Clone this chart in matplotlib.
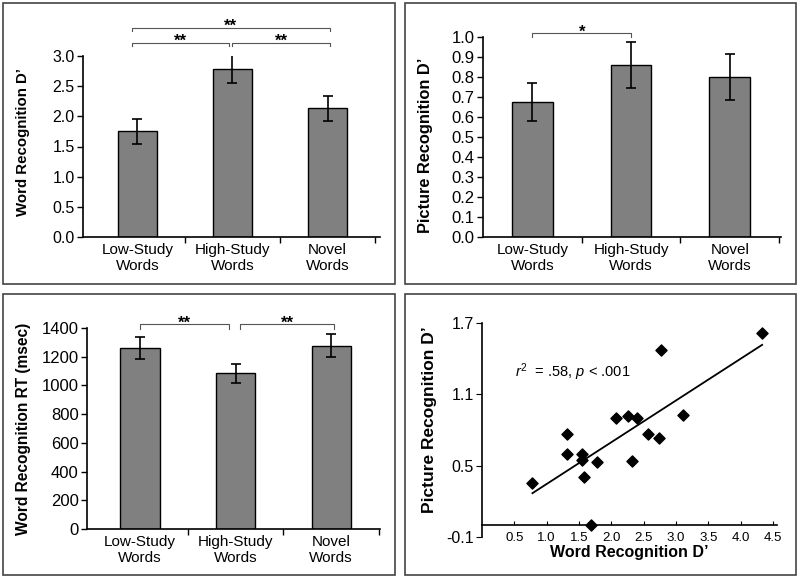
import numpy as np
import matplotlib
matplotlib.use('Agg')
import matplotlib.pyplot as plt
from matplotlib.patches import Rectangle

plt.rcParams['font.family'] = ['Liberation Sans', 'DejaVu Sans']
plt.rcParams['mathtext.fontset'] = 'custom'
plt.rcParams['mathtext.rm'] = 'Liberation Sans'
plt.rcParams['mathtext.it'] = 'Liberation Sans:italic'

# 数据
conds = ['Low-Study\nWords', 'High-Study\nWords', 'Novel\nWords']
word_d = [1.75, 2.78, 2.13]
word_d_err = [0.21, 0.23, 0.21]
pic_d = [0.675, 0.86, 0.80]
pic_d_err = [0.095, 0.113, 0.113]
word_rt = [1262, 1085, 1278]
word_rt_err = [78, 66, 80]

sc_word = [0.78, 1.31, 1.31, 1.55, 1.55, 1.58, 1.77, 1.69, 2.07, 2.25,
           2.39, 2.32, 2.56, 2.74, 2.77, 3.11, 4.33]
sc_pic = [0.355, 0.77, 0.60, 0.60, 0.55, 0.405, 0.53, 0.0, 0.905, 0.92,
          0.90, 0.54, 0.765, 0.73, 1.47, 0.93, 1.617]

W, H = 800, 579
fig = plt.figure(figsize=(8, 5.79), dpi=100)


def px_axes(l, r, b, t):
    # 像素坐标 -> figure 比例
    return fig.add_axes([l / W, 1 - b / H, (r - l) / W, (b - t) / H])


# 面板边框
for (l, r, t, b) in [(3, 395, 3, 284), (405, 796, 3, 284),
                     (3, 395, 294, 575), (405, 796, 294, 575)]:
    fig.patches.append(Rectangle((l / W, 1 - b / H), (r - l) / W, (b - t) / H,
                                 transform=fig.transFigure, fill=False,
                                 edgecolor='#444444', linewidth=1.2))


def bar_panel(ax, vals, errs, xlim, ylim, yticks, ylabel, fmt, ysize, lsize):
    x = np.arange(len(vals))
    ax.bar(x, vals, width=0.41, color='#808080', edgecolor='black', linewidth=1.0, zorder=2)
    ax.errorbar(x, vals, yerr=errs, fmt='none', ecolor='black', elinewidth=1.2,
                capsize=3.8, capthick=1.2, zorder=3)
    ax.set_xlim(xlim)
    ax.set_ylim(ylim)
    ax.set_yticks(yticks)
    ax.set_yticklabels([fmt.format(v) for v in yticks])
    ax.set_xticks([0.5, 1.5, 2.5])
    ax.set_xticks(x, minor=True)
    ax.set_xticklabels([])
    ax.set_xticklabels(conds, minor=True)
    ax.tick_params(axis='x', which='minor', length=0, pad=4, labelsize=11)
    ax.tick_params(axis='x', which='major', length=4, width=1.0)
    ax.tick_params(axis='y', length=4, width=1.0, labelsize=ysize, pad=2)
    for s in ['top', 'right']:
        ax.spines[s].set_visible(False)
    for s in ['left', 'bottom']:
        ax.spines[s].set_linewidth(1.2)
    ax.set_ylabel(ylabel, fontsize=lsize, fontweight='bold')
    ax.patch.set_alpha(0)


def bracket(ax, x0, x1, y, drop, text):
    ax.plot([x0, x0, x1, x1], [y - drop, y, y, y - drop], color='#555555',
            linewidth=0.8, clip_on=False)
    ax.annotate(text, ((x0 + x1) / 2, y), xytext=(0, -2.5), textcoords='offset points',
                ha='center', va='baseline', fontsize=12, fontweight='bold',
                annotation_clip=False)


# 左上：Word Recognition D'
ax1 = px_axes(83, 380, 237, 56)
bar_panel(ax1, word_d, word_d_err, (-0.57, 2.55), (0, 3.0),
          np.arange(0, 3.01, 0.5), 'Word Recognition D\u2019', '{:.1f}', 11.5, 10.8)
bracket(ax1, -0.06, 2.02, 3.47, 0.06, '**')
bracket(ax1, -0.06, 0.96, 3.22, 0.06, '**')
bracket(ax1, 1.0, 2.02, 3.22, 0.06, '**')
ax1.yaxis.set_label_coords(-0.178, 0.522)

# 右上：Picture Recognition D'
ax2 = px_axes(483, 781, 237, 37)
bar_panel(ax2, pic_d, pic_d_err, (-0.5, 2.52), (0, 1.0),
          np.round(np.arange(0, 1.01, 0.1), 1), 'Picture Recognition D\u2019', '{:.1f}',
          12, 11.8)
bracket(ax2, 0.0, 1.0, 1.02, 0.02, '*')
ax2.yaxis.set_label_coords(-0.168, 0.46)

# 左下：Word Recognition RT
ax3 = px_axes(87, 380, 529, 328)
bar_panel(ax3, word_rt, word_rt_err, (-0.555, 2.51), (0, 1400),
          np.arange(0, 1401, 200), 'Word Recognition RT (msec)', '{:.0f}', 12, 11.2)
bracket(ax3, 0.0, 0.935, 1426, 30, '**')
bracket(ax3, 1.05, 2.03, 1426, 30, '**')
ax3.yaxis.set_label_coords(-0.19, 0.5)

# 右下：散点图
ax4 = px_axes(482, 777, 537, 323)
ax4.scatter(sc_word, sc_pic, marker='D', s=32, color='black', zorder=3, clip_on=False)
k, b = np.polyfit(sc_word, sc_pic, 1)
xx = np.array([min(sc_word), max(sc_word)])
ax4.plot(xx, k * xx + b, color='black', linewidth=1.3)
ax4.set_xlim(0, 4.56)
ax4.set_ylim(-0.1, 1.7)
ax4.spines['bottom'].set_position(('data', 0))
for s in ['top', 'right']:
    ax4.spines[s].set_visible(False)
for s in ['left', 'bottom']:
    ax4.spines[s].set_linewidth(1.2)
ax4.set_xticks(np.arange(0.5, 4.51, 0.5))
ax4.set_xticklabels(['{:.1f}'.format(v) for v in np.arange(0.5, 4.51, 0.5)])
ax4.set_yticks([-0.1, 0.5, 1.1, 1.7])
ax4.set_yticklabels(['-0.1', '0.5', '1.1', '1.7'])
ax4.tick_params(axis='x', direction='in', length=3, labelsize=9.5, pad=5)
ax4.tick_params(axis='y', length=4, labelsize=11.5, pad=2)
ax4.set_xlabel('Word Recognition D\u2019', fontsize=11.5, fontweight='bold', labelpad=1)
ax4.set_ylabel('Picture Recognition D\u2019', fontsize=12.5, fontweight='bold')
ax4.yaxis.set_label_coords(-0.153, 0.547)
ax4.text(0.51, 1.29, r'$\mathit{r}^2$  = .58, $\mathit{p}$ < .001', fontsize=10.5,
         va='center', ha='left')

fig.savefig('out.png', dpi=100)
